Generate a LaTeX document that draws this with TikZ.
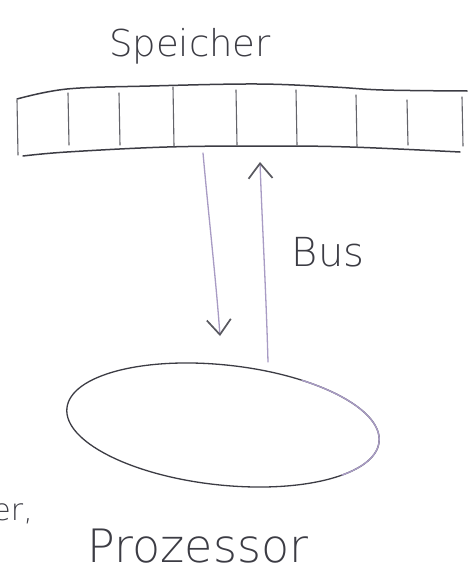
\documentclass[tikz,border=0pt]{standalone}
\usepackage{fontspec}
\newfontfamily\hand{DejaVu Sans ExtraLight}
\usetikzlibrary{arrows.meta}
\definecolor{ink}{HTML}{3C3C44}
\definecolor{lav}{HTML}{A89BC4}
\tikzset{
  pen/.style={draw=ink, line width=1.5pt, line cap=round, line join=round},
  thinpen/.style={draw=ink!80, line width=1.1pt, line cap=round},
  buswire/.style={draw=lav, line width=1.3pt, line cap=round,
    -{Straight Barb[length=15pt,width=24pt,line width=1.7pt,color=ink!85]}},
  label/.style={text=ink, font=\hand, inner sep=0pt},
}
\begin{document}
\begin{tikzpicture}[x=1pt,y=-1pt]
  \clip (0,0) rectangle (470,578);
  \fill[white] (0,0) rectangle (470,578);

  % memory title
  \node[label, font=\hand\fontsize{37}{42}\selectfont] (speicher) at (190,46) {Speicher};

  % memory strip: wavy top and bottom edges
  \draw[pen] plot[smooth, tension=0.6] coordinates
    {(17,99) (67,89) (150,86) (257,84) (333,87) (383,90) (467,91)};
  \draw[pen] plot[smooth, tension=0.6] coordinates
    {(23,156) (67,152) (167,147) (267,146) (350,147) (460,152)};
  % cell dividers
  \foreach \x/\a/\b in {17/100/155, 68/93/145, 119/93/145, 173/87/146,
                        236/90/145, 296/90/145, 356/95/147, 407/100/145, 462/97/146}
    \draw[thinpen] (\x,\a) -- (\x+1,\b);

  % bus connectors
  \coordinate (memout) at (203,153);
  \coordinate (cpuin)  at (220,336);
  \coordinate (cpuout) at (268,362);
  \coordinate (memin)  at (260,162);
  \draw[buswire] (memout) .. controls (209,220) and (216,280) .. (cpuin);
  \draw[buswire] (cpuout) .. controls (266,290) and (262,220) .. (memin);
  \node[label, font=\hand\fontsize{40}{46}\selectfont] (bus) at (328,252) {Bus};

  % processor
  \begin{scope}[rotate around={-6.2:(223,425)}]
    \draw[pen, line width=1.3pt] (223,425) ellipse [x radius=157, y radius=60];
    \draw[lav, line width=1.4pt, line cap=round] plot[domain=-62:38, variable=\t, smooth]
      ({223+157*cos(\t)}, {425+60*sin(\t)});
  \end{scope}
  \coordinate (cpu) at (223,425);
  \node[label, font=\hand\fontsize{46}{52}\selectfont] (prozessor) at (198,546) {Prozessor};

  % word running in from the left margin
  \node[label, font=\hand\fontsize{30}{36}\selectfont, anchor=base east] (cutword) at (33,520) {er,};
\end{tikzpicture}
\end{document}
